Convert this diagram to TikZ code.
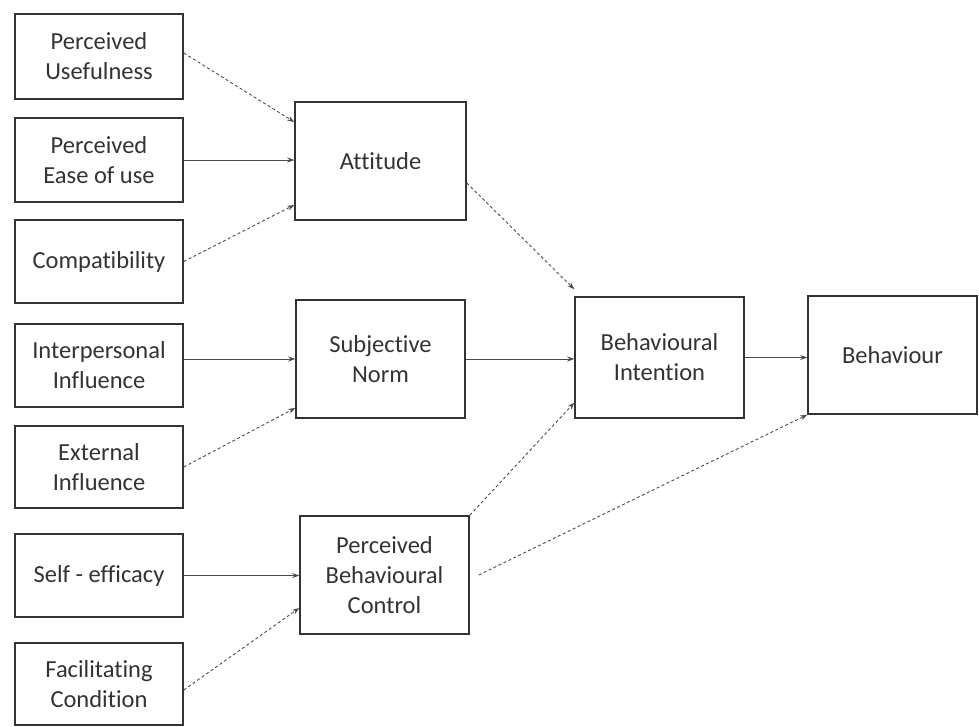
\documentclass[tikz,border=0pt]{standalone}
\usepackage{fontspec}
\setmainfont{Carlito}[Ligatures={NoCommon}]
\usetikzlibrary{arrows.meta}
\definecolor{ink}{HTML}{333333}
\definecolor{wire}{HTML}{4A4A4A}
\begin{document}
\begin{tikzpicture}[x=1pt,y=-1pt,
  box/.style={draw=ink,line width=1.5pt,fill=white,align=center,text=ink,
    font=\fontsize{24.5}{30}\selectfont,inner sep=0pt},
  small/.style={box,minimum width=168pt,minimum height=83pt},
  big/.style={box,minimum width=170pt,minimum height=118pt},
  link/.style={draw=wire,line width=0.9pt,-{Stealth[length=7pt,width=5pt]}},
  dlink/.style={link,dash pattern=on 3pt off 2.5pt}]
\useasboundingbox (0,0) rectangle (979,726);

% input factors
\node[small,minimum height=85pt] (pu)   at (99,56.5) {Perceived\\Usefulness};
\node[small,minimum height=84pt] (peu)  at (99,160)  {Perceived\\Ease of use};
\node[small] (comp) at (99,261.5) {Compatibility};
\node[small] (ip)   at (99,365.5) {Interpersonal\\Influence};
\node[small,minimum height=82pt] (ext)  at (99,467)  {External\\Influence};
\node[small] (se)   at (99,575.5) {Self - efficacy};
\node[small,minimum height=82pt] (fc)   at (99,684)  {Facilitating\\Condition};

% constructs
\node[big,minimum width=171pt] (att) at (380.5,161) {Attitude};
\node[big,minimum width=169pt] (sn)  at (380.5,359) {Subjective\\Norm};
\node[big,minimum width=169pt] (pbc) at (384.5,575) {Perceived\\Behavioural\\Control};
\node[big,minimum width=169pt,minimum height=121pt] (bi) at (659.5,357.5) {Behavioural\\Intention};
\node[big,minimum width=169pt] (beh) at (892.5,355) {Behaviour};

% paths into Attitude
\draw[dlink] ([yshift=3.5pt]pu.east) -- ([yshift=39pt]att.west);
\draw[link]  (peu.east) -- (peu.east -| att.west);
\draw[dlink] (comp.east) -- ([yshift=-44pt]att.west);

% paths into Subjective Norm
\draw[link]  (ip.east |- sn.west) -- (sn.west);
\draw[dlink] (ext.east) -- ([yshift=-49pt]sn.west);

% paths into Perceived Behavioural Control
\draw[link]  (se.east) -- (se.east -| pbc.west);
\draw[dlink] ([yshift=-6pt]fc.east) -- ([yshift=-33pt]pbc.west);

% paths into Behavioural Intention
\draw[dlink] ([yshift=-22pt]att.east) -- ([yshift=7pt]bi.north west);
\draw[link]  (sn.east) -- (sn.east -| bi.west);
\draw[dlink] (pbc.north east) -- ([yshift=16pt]bi.south west);

% paths into Behaviour
\draw[link]  (bi.east) -- (bi.east -| beh.west);
\draw[dlink] ([xshift=9pt]pbc.east) -- (beh.south west);
\end{tikzpicture}
\end{document}
